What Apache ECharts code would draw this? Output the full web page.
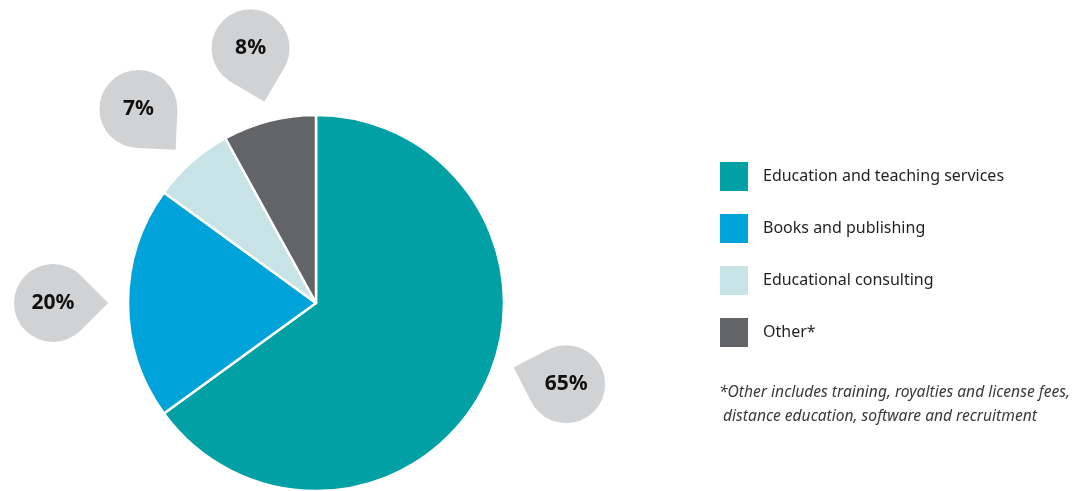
<!DOCTYPE html>
<html>
<head>
<meta charset="utf-8">
<script src="https://cdn.jsdelivr.net/npm/echarts@6/dist/echarts.min.js"></script>
<style>
html,body{margin:0;padding:0;background:#fff;}
#chart{width:1074px;height:491px;}
</style>
</head>
<body>
<div id="chart"></div>
<script>
// ---- data ----
const categories = ['Education and teaching services', 'Books and publishing', 'Educational consulting', 'Other*'];
const values = [65, 20, 7, 8];
const labels = ['65%', '20%', '7%', '8%'];
const colors = ['#00a0a4', '#00a3d9', '#c8e3e6', '#636467'];
const footnote = ['*Other includes training, royalties and license fees,', ' distance education, software and recruitment'];
// small angular nudge of a callout along the circle (in % of the circle)
const bubbleShift = [-2.5, 0, -0.3, 0];

const total = values.reduce((a, b) => a + b, 0);
const bubbleData = [];
let acc = 0;
values.forEach((v, i) => {
  const mid = (acc + v / 2) / total * 100 + bubbleShift[i];
  bubbleData.push([1.4, mid, labels[i]]);
  acc += v;
});

const CENTER = [316, 303];
const R = 188;
const BR = 39; // bubble radius

const chart = echarts.init(document.getElementById('chart'));
chart.setOption({
  backgroundColor: '#fff',
  animation: false,
  color: colors,
  legend: {
    data: categories,
    orient: 'vertical',
    left: 713,
    top: 155,
    itemWidth: 30,
    itemHeight: 31,
    itemGap: 19,
    icon: 'rect',
    selectedMode: false,
    textStyle: { fontFamily: 'Noto Sans', fontSize: 16, color: '#231f20', padding: [0, 0, 0, 9] }
  },
  polar: { center: CENTER, radius: 263 },
  angleAxis: { type: 'value', min: 0, max: 100, startAngle: 90, clockwise: true, show: false, splitLine: { show: false }, axisLine: { show: false } },
  radiusAxis: { type: 'value', min: 0, max: 1.4, show: false, splitLine: { show: false }, axisLine: { show: false } },
  graphic: [{
    type: 'text',
    left: 719,
    top: 381,
    style: {
      text: footnote.join('\n'),
      font: 'italic 15.6px "Noto Sans"',
      fill: '#3a3a3a',
      lineHeight: 24
    }
  }],
  series: [
    {
      type: 'pie',
      center: CENTER,
      radius: R,
      startAngle: 90,
      clockwise: true,
      label: { show: false },
      labelLine: { show: false },
      emphasis: { disabled: true },
      itemStyle: { borderColor: '#fff', borderWidth: 2.5 },
      data: categories.map((c, i) => ({ name: c, value: values[i] }))
    },
    {
      type: 'custom',
      coordinateSystem: 'polar',
      data: bubbleData,
      silent: true,
      renderItem: function (params, api) {
        const p = api.coord([api.value(0), api.value(1)]);
        const c = api.coord([0, 0]);
        const a = Math.atan2(c[1] - p[1], c[0] - p[0]);
        const tip = [Math.cos(a) * BR * Math.SQRT2, Math.sin(a) * BR * Math.SQRT2];
        const t1 = [Math.cos(a + Math.PI / 4) * BR, Math.sin(a + Math.PI / 4) * BR];
        const t2 = [Math.cos(a - Math.PI / 4) * BR, Math.sin(a - Math.PI / 4) * BR];
        return {
          type: 'group',
          x: p[0],
          y: p[1],
          children: [
            { type: 'circle', shape: { cx: 0, cy: 0, r: BR }, style: { fill: '#d1d2d4' } },
            { type: 'polygon', shape: { points: [[0, 0], t1, tip, t2] }, style: { fill: '#d1d2d4' } },
            {
              type: 'text',
              style: {
                text: api.value(2),
                x: 0, y: 0,
                align: 'center', verticalAlign: 'middle',
                font: 'bold 21px "Noto Sans"',
                fill: '#111'
              }
            }
          ]
        };
      }
    }
  ]
});
</script>
</body>
</html>
